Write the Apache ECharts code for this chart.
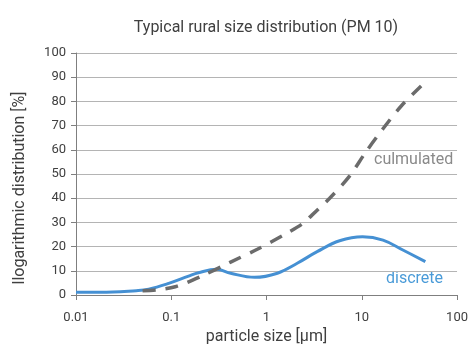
<!DOCTYPE html>
<html>
<head>
<meta charset="utf-8">
<script src="https://cdn.jsdelivr.net/npm/echarts@6/dist/echarts.min.js"></script>
<style>
  html, body { margin: 0; padding: 0; background: #fff; }
  #chart { width: 471px; height: 352px; }
</style>
</head>
<body>
<div id="chart"></div>
<script>
// Particle size [µm] and logarithmic distribution [%] per series
const discreteSizes = [0.01, 0.018, 0.043, 0.058, 0.094, 0.152, 0.193, 0.30, 0.42, 0.75, 1.3, 2.1, 3.4, 5.85, 10.2, 16.7, 27, 46.5];
const discreteValues = [1.1, 1.1, 1.8, 2.4, 4.8, 7.8, 9.2, 10.6, 9.0, 7.3, 9.0, 13.1, 17.9, 22.4, 24.1, 22.7, 18.6, 13.8];

const cumulSizes = [0.05, 0.07, 0.11, 0.2, 0.42, 0.81, 1.5, 2.36, 3.0, 4.6, 7.4, 10.9, 16.7, 26.1, 42];
const cumulValues = [1.8, 2.1, 3.4, 7.5, 13.6, 19, 24.7, 29.3, 33, 40, 49, 58.8, 68.7, 78.2, 86.4];

const xTickLabels = ['0.01', '0.1', '1', '10', '100'];
const yTickLabels = ['0', '10', '20', '30', '40', '50', '60', '70', '80', '90', '100'];

const FONT = 'Roboto, "Liberation Sans", sans-serif';

const chart = echarts.init(document.getElementById('chart'), null, { renderer: 'canvas' });

chart.setOption({
  animation: false,
  backgroundColor: '#ffffff',
  title: {
    text: 'Typical rural size distribution (PM 10)',
    left: 261,
    top: 15,
    textAlign: 'center',
    textStyle: { fontFamily: FONT, fontSize: 16, fontWeight: 'normal', color: '#404040' }
  },
  grid: { left: 76, right: 9, top: 53, bottom: 57, containLabel: false },
  xAxis: {
    type: 'log',
    logBase: 10,
    min: 0.01,
    max: 100,
    name: 'particle size [µm]',
    nameLocation: 'middle',
    nameGap: 32,
    nameTextStyle: { fontFamily: FONT, fontSize: 16, color: '#404040' },
    axisLine: { show: true, lineStyle: { color: '#7f7f7f', width: 1 } },
    axisTick: { show: true, inside: false, length: 5, lineStyle: { color: '#7f7f7f' } },
    minorTick: { show: false },
    splitLine: { show: false },
    axisLabel: {
      margin: 16,
      fontFamily: FONT, fontSize: 13, color: '#404040',
      formatter: (v, i) => xTickLabels[i]
    }
  },
  yAxis: {
    type: 'value',
    min: 0,
    max: 100,
    interval: 10,
    axisLine: { show: true, lineStyle: { color: '#7f7f7f', width: 1 } },
    axisTick: { show: true, inside: false, length: 5, lineStyle: { color: '#7f7f7f' } },
    splitLine: { show: true, lineStyle: { color: '#b4b4b4', width: 1 } },
    axisLabel: {
      margin: 10,
      fontFamily: FONT, fontSize: 13, color: '#404040',
      formatter: (v, i) => yTickLabels[i]
    }
  },
  series: [
    {
      name: 'discrete',
      type: 'line',
      smooth: 0.4,
      symbol: 'none',
      lineStyle: { color: '#4590d3', width: 3 },
      data: discreteSizes.map((s, i) => [s, discreteValues[i]]),
      z: 3
    },
    {
      name: 'culmulated',
      type: 'line',
      smooth: 0.3,
      symbol: 'none',
      lineStyle: { color: '#6b6b6b', width: 3.5, type: [13, 10] },
      data: cumulSizes.map((s, i) => [s, cumulValues[i]]),
      z: 4
    }
  ],
  graphic: [
    {
      // y-axis title, rotated
      type: 'text', x: 20, y: 188, rotation: Math.PI / 2,
      style: {
        text: 'llogarithmic distribution [%]', font: '16px ' + FONT, fill: '#404040',
        align: 'center', verticalAlign: 'middle'
      }
    },
    {
      type: 'text', left: 374, top: 152,
      style: { text: 'culmulated', font: '16px ' + FONT, fill: '#8a8a8a' }
    },
    {
      type: 'text', left: 386, top: 271,
      style: { text: 'discrete', font: '16px ' + FONT, fill: '#4a9bd8' }
    }
  ]
});
</script>
</body>
</html>
